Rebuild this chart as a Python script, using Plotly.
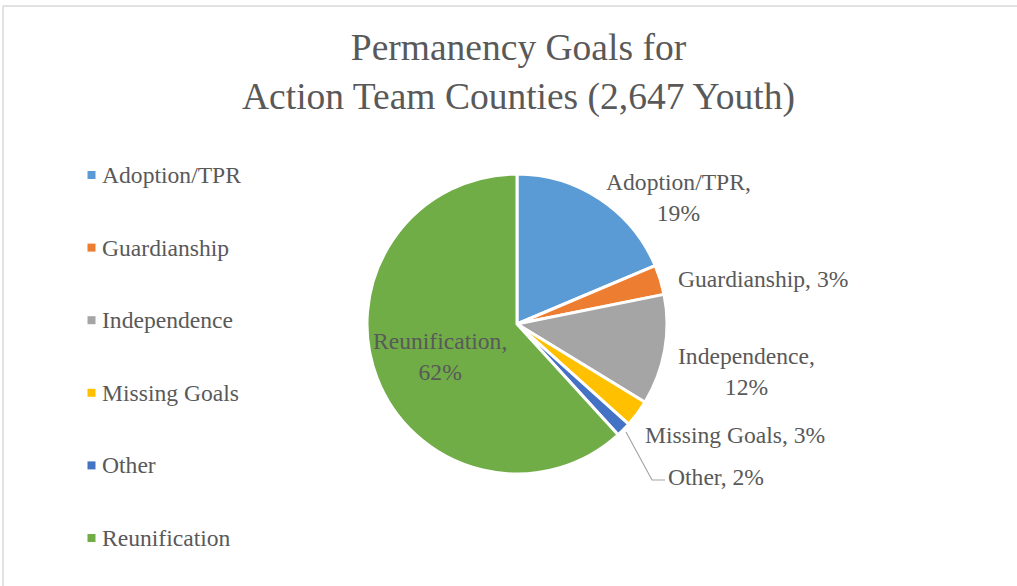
import plotly.graph_objects as go

# ---- data ----
categories = ["Adoption/TPR", "Guardianship", "Independence", "Missing Goals", "Other", "Reunification"]
youth_counts = [493, 85, 315, 77, 42, 1635]
colors = ["#5B9BD5", "#ED7D31", "#A5A5A5", "#FFC000", "#4472C4", "#70AD47"]
title_text = "Permanency Goals for<br>Action Team Counties (2,647 Youth)"

# ---- layout / style settings ----
W, H = 1017, 586
FONT = "Liberation Serif, Times New Roman, serif"
TXT = "#595959"
cx, cy, r = 517, 324, 150          # pie centre/radius in pixels
line_break = [True, False, True, False, False, True]
label_px = [(678, 198), (763, 279), (746, 371), (735, 435), (716, 477), (440, 356)]
legend_x, legend_y0, legend_dy = 91.5, 175, 72.6

def px(x):
    return x / W

def py(y):
    return 1 - y / H

total = sum(youth_counts)
pcts = [round(100 * v / total) for v in youth_counts]

fig = go.Figure(go.Pie(
    labels=categories,
    values=youth_counts,
    sort=False,
    direction="clockwise",
    rotation=0,
    marker=dict(colors=colors, line=dict(color="white", width=3)),
    textinfo="none",
    hoverinfo="label+percent",
    showlegend=False,
    domain=dict(x=[px(cx - r), px(cx + r)], y=[py(cy + r), py(cy - r)]),
))

annotations = []
# data labels
for name, p, br, (lx, ly) in zip(categories, pcts, line_break, label_px):
    sep = ",<br>" if br else ", "
    annotations.append(dict(
        x=px(lx), y=py(ly), xref="paper", yref="paper",
        text=f"{name}{sep}{p}%", showarrow=False, align="center",
        xanchor="center", yanchor="middle",
        font=dict(family=FONT, size=23.6, color=TXT),
    ))
# legend
shapes = []
for i, (name, col) in enumerate(zip(categories, colors)):
    yy = legend_y0 + i * legend_dy
    shapes.append(dict(type="rect", xref="paper", yref="paper",
                       x0=px(legend_x - 4), x1=px(legend_x + 4),
                       y0=py(yy + 4), y1=py(yy - 4),
                       fillcolor=col, line=dict(width=0)))
    annotations.append(dict(
        x=px(legend_x + 8), y=py(yy), xref="paper", yref="paper",
        text=name, showarrow=False, xanchor="left", yanchor="middle",
        font=dict(family=FONT, size=23.6, color=TXT),
    ))

# leader line for "Other"
shapes.append(dict(type="path", xref="paper", yref="paper",
                   path=f"M {px(626)} {py(432)} L {px(652)} {py(480)} L {px(665)} {py(480)}",
                   line=dict(color="#A6A6A6", width=1.2)))
# chart area border (top and left)
shapes.append(dict(type="line", xref="paper", yref="paper", x0=px(3), x1=1.0, y0=py(6), y1=py(6),
                   line=dict(color="#D9D9D9", width=1.5)))
shapes.append(dict(type="line", xref="paper", yref="paper", x0=px(3), x1=px(3), y0=py(6), y1=0,
                   line=dict(color="#D9D9D9", width=1.5)))

# title
annotations.append(dict(
    x=px(518), y=py(72), xref="paper", yref="paper", text=title_text,
    showarrow=False, xanchor="center", yanchor="middle", align="center",
    font=dict(family=FONT, size=37.5, color=TXT),
))

fig.update_layout(
    width=W, height=H,
    margin=dict(l=0, r=0, t=0, b=0),
    paper_bgcolor="white", plot_bgcolor="white",
    annotations=annotations, shapes=shapes,
)

fig.write_html("out.html", config={"displayModeBar": False},
               post_script="document.body.style.margin='0';")
